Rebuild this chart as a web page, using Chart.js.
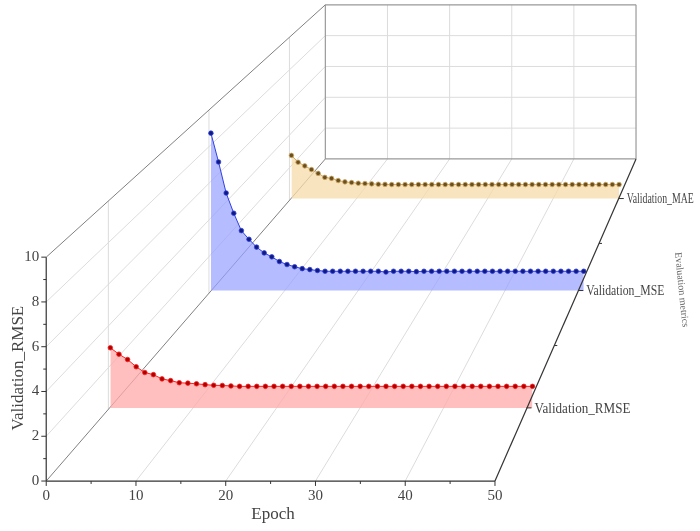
<!DOCTYPE html>
<html><head><meta charset="utf-8">
<script src="https://cdn.jsdelivr.net/npm/chart.js@4.4.1/dist/chart.umd.min.js"></script>
<style>html,body{margin:0;padding:0;background:#fff}#wrap{width:700px;height:531px}</style>
</head><body><div id="wrap"><canvas id="c"></canvas></div>
<script>
const epochs = [1,2,3,4,5,6,7,8,9,10,11,12,13,14,15,16,17,18,19,20,21,22,23,24,25,26,27,28,29,30,31,32,33,34,35,36,37,38,39,40,41,42,43,44,45,46,47,48,49,50];
const seriesNames = ["Validation_RMSE","Validation_MSE","Validation_MAE"];
const rmse = [2.82,2.52,2.27,1.93,1.66,1.56,1.36,1.28,1.18,1.16,1.13,1.09,1.06,1.05,1.03,1.01,1.01,1.01,1.01,1.01,1.01,1.01,1.01,1.01,1.01,1.01,1.01,1.01,1.01,1.01,1.01,1.01,1.01,1.01,1.01,1.01,1.01,1.01,1.01,1.01,1.01,1.01,1.01,1.01,1.01,1.01,1.01,1.01,1.01,1.01];
const mse = [8.41,6.87,5.21,4.13,3.20,2.74,2.32,2.01,1.80,1.55,1.39,1.27,1.17,1.12,1.07,1.03,1.03,1.03,1.03,1.03,1.03,1.03,1.03,0.99,1.03,1.03,1.03,1.01,1.03,1.03,1.03,1.03,1.03,1.03,1.03,1.03,1.03,1.03,1.03,1.03,1.03,1.03,1.03,1.03,1.03,1.03,1.03,1.03,1.03,1.03];
const mae = [2.59,2.18,1.96,1.74,1.51,1.27,1.21,1.08,1.00,0.96,0.92,0.90,0.88,0.86,0.85,0.84,0.84,0.84,0.84,0.84,0.84,0.84,0.84,0.84,0.84,0.84,0.84,0.84,0.84,0.84,0.84,0.84,0.84,0.84,0.84,0.84,0.84,0.84,0.84,0.84,0.84,0.84,0.84,0.84,0.84,0.84,0.84,0.84,0.84,0.84];
const xTicks = [0,10,20,30,40,50];
const yTicks = [0,2,4,6,8,10];

const F = {x0:42, x1:497, yb:485, yt:257};
const B = {x0:325, x1:640, yb:157, yt:0};
const layers = [
  {x0:107, x1:535, base:410.5, k:21.7, line:'#ff2020', pt:'#b00000', fill:'rgba(255,170,170,0.75)', lx:529, lw:96},
  {x0:209, x1:587, base:291, k:19.06, line:'#3040e0', pt:'#101a80', fill:'rgba(150,160,255,0.7)', lx:581.6, lw:78},
  {x0:290.6, x1:622.8, base:197.3, k:16.96, line:'#d0a860', pt:'#6a5020', fill:'rgba(245,220,170,0.75)', lx:622.6, lw:67}
];
const vals = [rmse, mse, mae];

function proj(L, e, v){ return {x: L.x0 + (e-1)/49*(L.x1-L.x0), y: L.base - v*L.k}; }

const datasets = [];
[2,1,0].forEach(i=>{
  const L = layers[i];
  datasets.push({
    label: seriesNames[i],
    data: epochs.map((e,j)=>proj(L,e,vals[i][j])),
    borderColor: L.line, borderWidth: 1,
    backgroundColor: L.fill,
    fill: {value: L.base},
    pointRadius: 2.3, pointBackgroundColor: L.pt, pointBorderColor: L.line, pointBorderWidth: 0.8,
    tension: 0, clip: false
  });
});

const lerp=(a,b,t)=>a+(b-a)*t;
const frame = {
  id:'frame',
  beforeDatasetsDraw(chart){
    const ctx = chart.ctx;
    const sx = chart.scales.x, sy = chart.scales.y;
    const P = (x,y)=>[sx.getPixelForValue(x), sy.getPixelForValue(y)];
    const line=(a,b,c,w)=>{ctx.beginPath();ctx.strokeStyle=c;ctx.lineWidth=w||1;ctx.moveTo(...P(a[0],a[1]));ctx.lineTo(...P(b[0],b[1]));ctx.stroke();};
    ctx.save();
    const g='#dcdcdc';
    for(let k=1;k<5;k++){
      const xx=lerp(B.x0,B.x1,k/5); line([xx,B.yb],[xx,B.yt],g);
      const yy=lerp(B.yb,B.yt,k/5); line([B.x0,yy],[B.x1,yy],g);
    }
    xTicks.slice(1,-1).forEach(v=>{const t=v/50; line([lerp(F.x0,F.x1,t),F.yb],[lerp(B.x0,B.x1,t),B.yb],g);});
    yTicks.slice(1,-1).forEach(v=>{const t=v/10; line([F.x0,lerp(F.yb,F.yt,t)],[B.x0,lerp(B.yb,B.yt,t)],g);});
    layers.forEach(L=>{
      const xx=L.x0-2; const t=(xx-F.x0)/(B.x0-F.x0);
      line([xx,lerp(F.yb,B.yb,t)],[xx,lerp(F.yt,B.yt,t)],g);
    });
    const d='#808080';
    line([B.x0,B.yb],[B.x1,B.yb],'#999',1.2);
    line([B.x0,B.yb],[B.x0,B.yt],'#999',1.2);
    line([B.x1,B.yb],[B.x1,B.yt],'#999',1.2);
    line([B.x0,B.yt],[B.x1,B.yt],'#999',1.2);
    line([F.x0,F.yb],[B.x0,B.yb],d);
    line([F.x0,F.yt],[B.x0,B.yt],d);
    ctx.restore();
  },
  afterDatasetsDraw(chart){
    const ctx = chart.ctx;
    const sx = chart.scales.x, sy = chart.scales.y;
    const P = (x,y)=>[sx.getPixelForValue(x), sy.getPixelForValue(y)];
    const line=(a,b,c,w)=>{ctx.beginPath();ctx.strokeStyle=c;ctx.lineWidth=w||1;ctx.moveTo(...P(a[0],a[1]));ctx.lineTo(...P(b[0],b[1]));ctx.stroke();};
    ctx.save();
    const a='#333';
    line([F.x0,F.yb],[F.x1,F.yb],a,1.2);
    line([F.x0,F.yb],[F.x0,F.yt],a,1.2);
    line([F.x1,F.yb],[B.x1,B.yb],a,1.2);
    ctx.font='15px "Liberation Serif"'; ctx.fillStyle='#444';
    for(let v=0;v<=50;v+=5){const x=lerp(F.x0,F.x1,v/50); line([x,F.yb],[x,F.yb+(v%10?3:5)],a);}
    ctx.textAlign='center'; ctx.textBaseline='top';
    xTicks.forEach(v=>{const p=P(lerp(F.x0,F.x1,v/50),F.yb+8); ctx.fillText(String(v),p[0],p[1]);});
    for(let v=0;v<=10;v++){const y=lerp(F.yb,F.yt,v/10); line([F.x0,y],[F.x0-(v%2?3:5),y],a);}
    ctx.textAlign='right'; ctx.textBaseline='middle';
    yTicks.forEach(v=>{const p=P(F.x0-7,lerp(F.yb,F.yt,v/10)); ctx.fillText(String(v),p[0],p[1]);});
    ctx.font='14px "Liberation Serif"'; ctx.textAlign='left';
    layers.forEach((L,i)=>{
      line([L.lx,L.base],[L.lx+5,L.base],a);
      const p=P(L.lx+8,L.base+1);
      ctx.fillText(seriesNames[i],p[0],p[1],L.lw);
    });
    [347,243].forEach(y=>{const x=F.x1+(B.x1-F.x1)*(F.yb-y)/(F.yb-B.yb); line([x,y],[x+3,y],a);});
    ctx.font='17px "Liberation Serif"'; ctx.textAlign='center'; ctx.textBaseline='middle';
    let p=P(272,519); ctx.fillText('Epoch',p[0],p[1]);
    ctx.save(); p=P(14,370); ctx.translate(p[0],p[1]); ctx.rotate(-Math.PI/2); ctx.fillText('Validation_RMSE',0,0); ctx.restore();
    ctx.save(); ctx.font='10px "Liberation Serif"'; ctx.fillStyle='#666'; p=P(686,290); ctx.translate(p[0],p[1]); ctx.rotate(Math.PI/2-0.1); ctx.fillText('Evaluation metrics',0,0); ctx.restore();
    ctx.restore();
  }
};

new Chart(document.getElementById('c'), {
  type:'line',
  data:{datasets},
  options:{
    responsive:true, maintainAspectRatio:false, animation:false,
    layout:{padding:0},
    scales:{
      x:{type:'linear', min:0, max:700, display:false},
      y:{type:'linear', min:0, max:531, reverse:true, display:false}
    },
    plugins:{legend:{display:false}, tooltip:{enabled:false}}
  },
  plugins:[frame]
});
</script></body></html>
